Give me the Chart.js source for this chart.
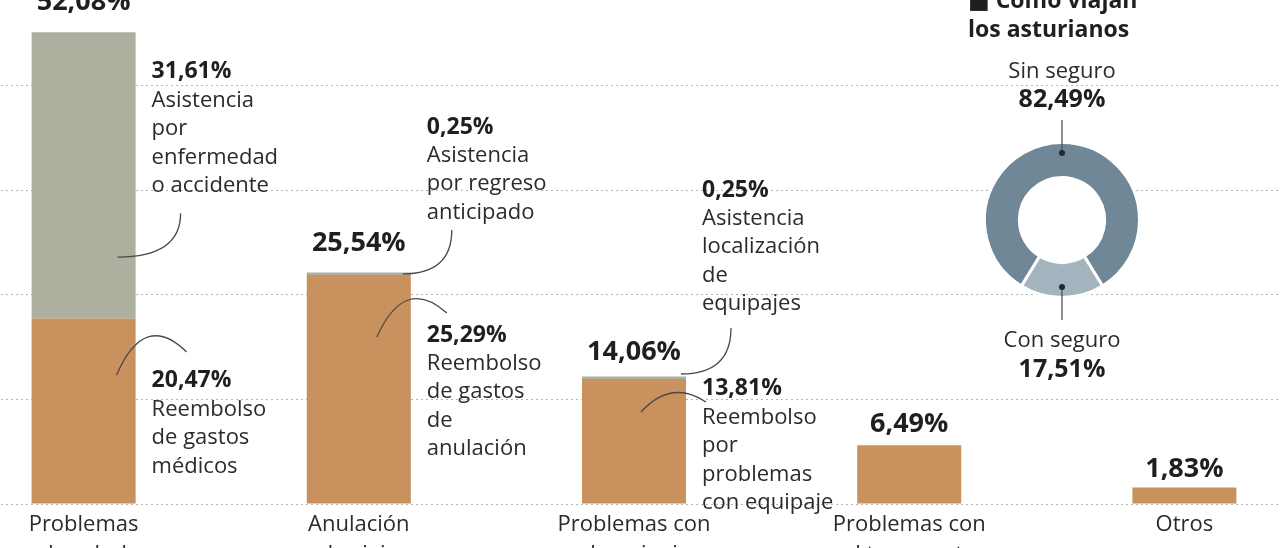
<!DOCTYPE html>
<html><head><meta charset="utf-8">
<script src="https://cdn.jsdelivr.net/npm/chart.js@4.4.1/dist/chart.umd.min.js"></script>
<style>
html,body{margin:0;padding:0;background:#fff;overflow:hidden;width:1280px;height:548px;position:relative;}
#main{position:absolute;left:-54px;top:0;width:1376px;height:548px;}
#donut{position:absolute;left:912px;top:0;width:368px;height:440px;}
</style></head><body>
<div id="main"><canvas id="c1"></canvas></div>
<div id="donut"><canvas id="c2"></canvas></div>
<script>
// ---- data ----
const categories = [["Problemas","de salud"],["Anulación","de viaje"],["Problemas con","el equipaje"],["Problemas con","el transporte"],["Otros"]];
const reembolso = [20.47, 25.29, 13.81, 6.49, 1.83];
const asistencia = [31.61, 0.25, 0.25, 0, 0];
const asistenciaText = [["Asistencia","por","enfermedad","o accidente"],["Asistencia","por regreso","anticipado"],["Asistencia","localización","de","equipajes"]];
const reembolsoText = [["Reembolso","de gastos","médicos"],["Reembolso","de gastos","de","anulación"],["Reembolso","por","problemas","con equipaje"]];
const gridValues = [0, 11.55, 23.1, 34.65, 46.2];
const donutLabels = ["Sin seguro","Con seguro"];
const donutValues = [82.49, 17.51];
const titleLines = ["\u25A0 Cómo viajan","los asturianos"];

// ---- helpers / layout (not data) ----
const FONT = '"Open Sans", "DejaVu Sans", sans-serif';
const fmt = v => v.toFixed(2).replace('.', ',') + '%';
const totals = reembolso.map((v,i)=> +(v + asistencia[i]).toFixed(2));
const totalGap = [22, 22, 17, 13, 10];
const asisAnchor = [47.7, 41.6, 34.66];
const reemAnchor = [13.6, 18.65, 12.7];
const LINE = 28.5;
// connectors: [dxStart, vStart, dxCtrl, vCtrl, dxEnd, vEnd] (dx from bar centre, v in axis units)
const asisConn = [[34,27.26,97,27.26,97,32.1],[44,25.39,93,25.39,93,30.24],[47,14.35,97,14.35,97,19.43]];
const reemConn = [[33,14.24,61,21.36,103,16.78],[18,18.43,46,25.28,88,21.08],[7,10.15,37,13.8,72,11.26]];

const annotPlugin = {
  id: 'annot',
  afterDatasetsDraw(chart) {
    const ctx = chart.ctx, ys = chart.scales.y;
    const meta = chart.getDatasetMeta(0);
    ctx.save();
    ctx.fillStyle = '#1f1f1f';
    ctx.textAlign = 'center';
    ctx.textBaseline = 'alphabetic';
    ctx.font = 'bold 27px ' + FONT;
    totals.forEach((t, i) => {
      const bar = meta.data[i];
      ctx.fillText(fmt(t), bar.x, ys.getPixelForValue(t) - totalGap[i]);
    });
    ctx.strokeStyle = '#4a4a4a';
    ctx.lineWidth = 1.3;
    const drawConn = (c, bar) => {
      ctx.beginPath();
      ctx.moveTo(bar.x + c[0], ys.getPixelForValue(c[1]));
      ctx.quadraticCurveTo(bar.x + c[2], ys.getPixelForValue(c[3]), bar.x + c[4], ys.getPixelForValue(c[5]));
      ctx.stroke();
    };
    const block = (x, y0, value, lines) => {
      ctx.textAlign = 'left';
      ctx.textBaseline = 'middle';
      ctx.fillStyle = '#1f1f1f';
      ctx.font = 'bold 23px ' + FONT;
      ctx.fillText(fmt(value), x, y0);
      ctx.fillStyle = '#2b2b2b';
      ctx.font = '22px ' + FONT;
      lines.forEach((l, k) => ctx.fillText(l, x, y0 + LINE * (k + 1)));
    };
    asistenciaText.forEach((lines, i) => {
      const bar = meta.data[i];
      const right = bar.x + bar.width / 2;
      drawConn(asisConn[i], bar);
      drawConn(reemConn[i], bar);
      block(right + 16, ys.getPixelForValue(asisAnchor[i]), asistencia[i], lines);
      block(right + 16, ys.getPixelForValue(reemAnchor[i]), reembolso[i], reembolsoText[i]);
    });
    ctx.restore();
  }
};

new Chart(document.getElementById('c1'), {
  type: 'bar',
  data: {
    labels: categories,
    datasets: [
      { label: 'Reembolso', data: reembolso, backgroundColor: '#c8915e', borderWidth: 0 },
      { label: 'Asistencia', data: asistencia, backgroundColor: '#adb09f', borderWidth: 0 }
    ]
  },
  options: {
    responsive: true,
    maintainAspectRatio: false,
    animation: false,
    layout: { padding: 0 },
    datasets: { bar: { barPercentage: 0.378, categoryPercentage: 1 } },
    plugins: { legend: { display: false }, tooltip: { enabled: false } },
    scales: {
      x: {
        stacked: true,
        grid: { display: false },
        border: { display: false },
        ticks: { font: { family: FONT, size: 22, lineHeight: 1.4 }, color: '#2b2b2b', padding: -3, maxRotation: 0, autoSkip: false },
        afterFit(s) { s.height = 44; }
      },
      y: {
        stacked: true,
        min: 0, max: 55.63,
        ticks: { display: false },
        grid: { color: '#b5b5b5', lineWidth: 1, drawTicks: false },
        border: { display: false, dash: [2, 3] },
        afterBuildTicks(s) { s.ticks = gridValues.map(v => ({ value: v })); },
        afterFit(s) { s.width = 0; }
      }
    }
  },
  plugins: [annotPlugin]
});

// ---- doughnut ----
const conDeg = donutValues[1] / 100 * 360;
const sinDeg = donutValues[0] / 100 * 360;
const donutPlugin = {
  id: 'donutText',
  beforeDatasetsDraw(chart) {
    const arc = chart.getDatasetMeta(0).data[0];
    const ctx = chart.ctx;
    ctx.save();
    ctx.fillStyle = '#fff';
    ctx.beginPath();
    ctx.arc(arc.x, arc.y, arc.innerRadius, 0, Math.PI * 2);
    ctx.fill();
    ctx.restore();
  },
  afterDatasetsDraw(chart) {
    const arc = chart.getDatasetMeta(0).data[0];
    const cx = arc.x, cy = arc.y;
    const ctx = chart.ctx;
    ctx.save();
    ctx.fillStyle = '#1f1f1f';
    ctx.textAlign = 'left';
    ctx.textBaseline = 'alphabetic';
    ctx.font = 'bold 23px ' + FONT;
    ctx.fillText(titleLines[0], 56, 8);
    ctx.fillText(titleLines[1], 56, 37);
    ctx.strokeStyle = '#555';
    ctx.lineWidth = 1.3;
    ctx.beginPath();
    ctx.moveTo(cx, cy - 100); ctx.lineTo(cx, cy - 67);
    ctx.moveTo(cx, cy + 67); ctx.lineTo(cx, cy + 100);
    ctx.stroke();
    ctx.fillStyle = '#1e2a33';
    [cy - 67, cy + 67].forEach(y => { ctx.beginPath(); ctx.arc(cx, y, 3, 0, Math.PI * 2); ctx.fill(); });
    ctx.textAlign = 'center';
    ctx.textBaseline = 'middle';
    ctx.fillStyle = '#2b2b2b';
    ctx.font = '22px ' + FONT;
    ctx.fillText(donutLabels[0], cx, cy - 148);
    ctx.fillText(donutLabels[1], cx, cy + 121);
    ctx.fillStyle = '#1f1f1f';
    ctx.font = 'bold 25px ' + FONT;
    ctx.fillText(fmt(donutValues[0]), cx, cy - 120);
    ctx.fillText(fmt(donutValues[1]), cx, cy + 150);
    ctx.restore();
  }
};

new Chart(document.getElementById('c2'), {
  type: 'doughnut',
  data: {
    labels: donutLabels,
    datasets: [{ data: donutValues, backgroundColor: ['#6f8797', '#a4b4bf'], borderColor: '#fff', borderWidth: 3 }]
  },
  options: {
    responsive: true,
    maintainAspectRatio: false,
    animation: false,
    rotation: 180 - conDeg / 2 - sinDeg,
    cutout: '55%',
    layout: { padding: { left: 71, right: 139, top: 141, bottom: 141 } },
    plugins: { legend: { display: false }, tooltip: { enabled: false } }
  },
  plugins: [donutPlugin]
});
</script>
</body></html>
